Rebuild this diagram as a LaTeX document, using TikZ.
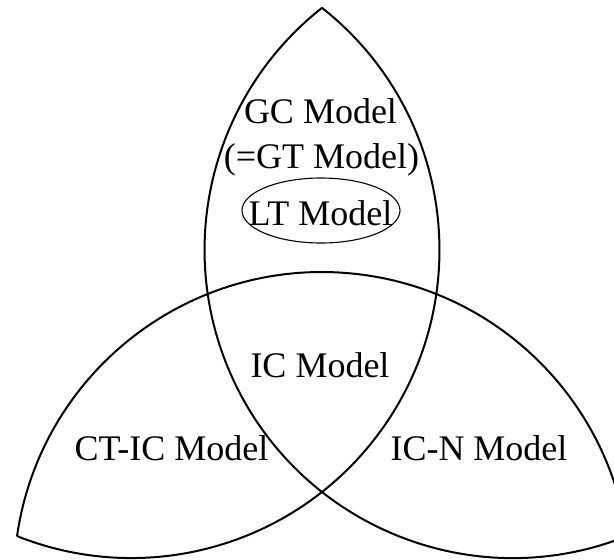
\documentclass[tikz,border=0pt]{standalone}
\usepackage{fontspec}
\setmainfont{Liberation Serif}
\begin{document}
\begin{tikzpicture}[x=1pt,y=1pt,
  arcline/.style={line width=2pt, line join=miter},
  lbl/.style={anchor=base, inner sep=0pt, font=\fontsize{36}{43}\selectfont}]
\useasboundingbox (0,0) rectangle (614,-560);
\clip (0,0) rectangle (614,-560);
\def\R{308.16}
\coordinate (O) at (322,-360);
\foreach \a in {0,120,240}{
  \begin{scope}[rotate around={\a:(322,-360)}]
    \draw[arcline] (322,-580.2) ++(171.79:\R) arc[start angle=171.79, end angle=8.21, radius=\R];
  \end{scope}
}
\node[lbl] (gc) at (320.5,-123) {GC Model};
\node[lbl] (gt) at (321.5,-168) {(=GT Model)};
\node[lbl] (lt) at (320.5,-225) {LT Model};
\draw[line width=1.1pt] (321,-210.5) ellipse [x radius=79, y radius=32.5];
\node[lbl] (ic) at (320,-377) {IC Model};
\node[lbl] (ctic) at (171.5,-460) {CT-IC Model};
\node[lbl] (icn) at (479,-460) {IC-N Model};
\end{tikzpicture}
\end{document}
